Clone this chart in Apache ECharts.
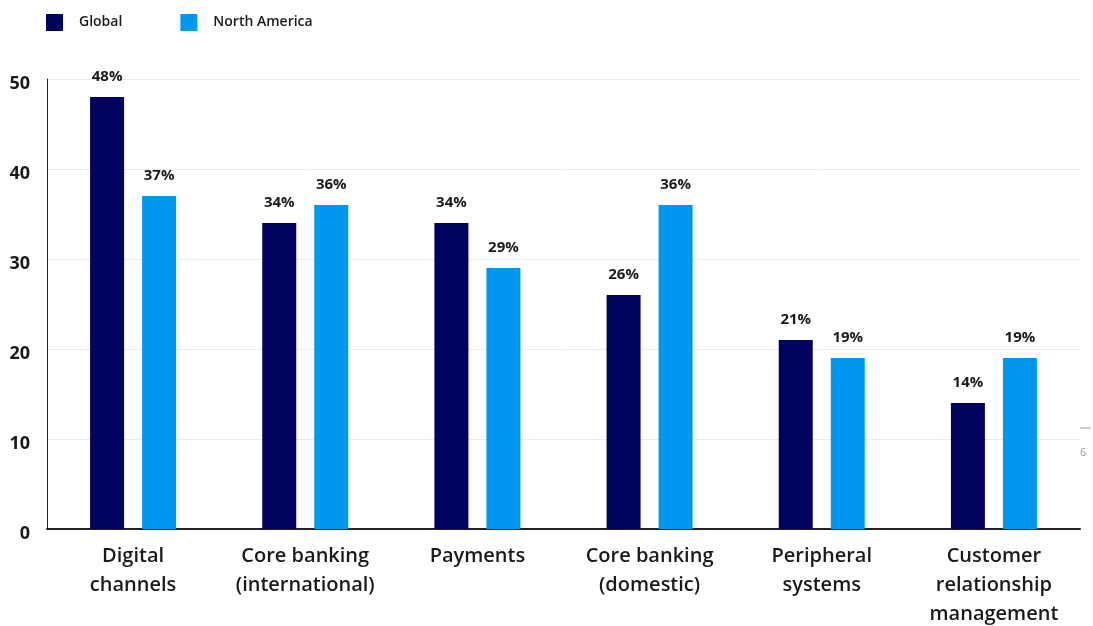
<!DOCTYPE html>
<html><head><meta charset="utf-8">
<script src="https://cdn.jsdelivr.net/npm/echarts@6/dist/echarts.min.js"></script>
<style>html,body{margin:0;padding:0;background:#fff}#c{width:1093px;height:626px}</style>
</head><body><div id="c"></div>
<script>
const categories = ["Digital\nchannels", "Core banking\n(international)", "Payments", "Core banking\n(domestic)", "Peripheral\nsystems", "Customer\nrelationship\nmanagement"];
const globalValues = [48, 34, 34, 26, 21, 14];
const northAmericaValues = [37, 36, 29, 36, 19, 19];
const yTicks = [0, 10, 20, 30, 40, 50];
const FONT = "Open Sans";
const chart = echarts.init(document.getElementById('c'), null, {renderer: 'canvas'});
const lbl = {show: true, position: 'top', distance: 13, formatter: p => p.value + '%', fontFamily: FONT, fontWeight: 700, fontSize: 15, color: '#1a1a1a'};
chart.setOption({
  animation: false,
  textStyle: {fontFamily: FONT},
  legend: {
    left: 46, top: 14, padding: 0, itemWidth: 17, itemHeight: 17, itemGap: 58, icon: 'rect',
    textStyle: {fontFamily: FONT, fontWeight: 600, fontSize: 14, color: '#1a1a1a', padding: [0,0,0,11]},
    data: ['Global', 'North America']
  },
  grid: {left: 47, right: 13, top: 79, bottom: 97, containLabel: false, outerBoundsMode: 'none'},
  xAxis: {
    type: 'category', data: categories,
    axisLine: {lineStyle: {color: '#222', width: 2}},
    axisTick: {show: false},
    axisLabel: {fontFamily: FONT, fontWeight: 600, fontSize: 20, color: '#1a1a1a', lineHeight: 29, margin: 13, interval: 0}
  },
  yAxis: {
    type: 'value', min: 0, max: 50, interval: 10,
    axisLine: {show: true, lineStyle: {color: '#222', width: 1}},
    axisTick: {show: false},
    splitLine: {lineStyle: {color: '#ebebeb', width: 1}},
    axisLabel: {fontFamily: FONT, fontWeight: 700, fontSize: 18, color: '#1a1a1a', margin: 17, verticalAlign: 'top', lineHeight: 10,
      formatter: v => yTicks.includes(v) ? String(v) : ''}
  },
  series: [
    {name: 'Global', type: 'bar', data: globalValues, barWidth: 34, barGap: '53%', itemStyle: {color: '#02025f'}, label: lbl},
    {name: 'North America', type: 'bar', data: northAmericaValues, barWidth: 34, itemStyle: {color: '#0098ef'}, label: lbl}
  ],
  graphic: [
    {type: 'line', shape: {x1: 1080, y1: 428, x2: 1091, y2: 428}, style: {stroke: '#999', lineWidth: 1}},
    {type: 'text', left: 1080, top: 447, style: {text: '6', fontFamily: FONT, fontSize: 11, fill: '#999'}}
  ]
});
</script></body></html>
